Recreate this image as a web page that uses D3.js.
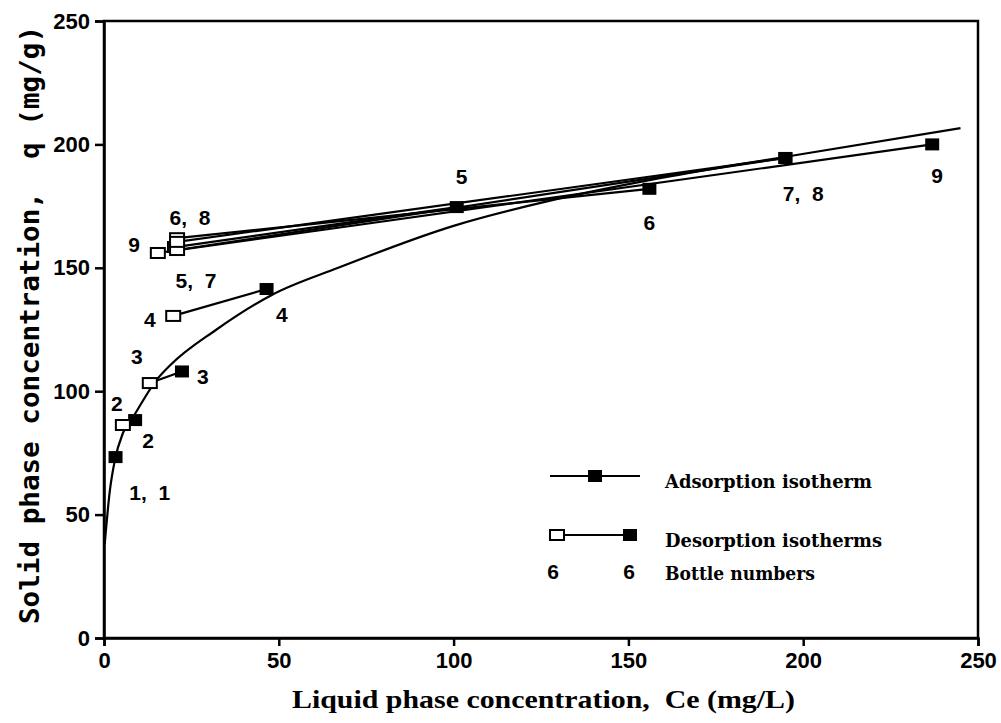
<!DOCTYPE html>
<html>
<head>
<meta charset="utf-8">
<script src="https://cdn.jsdelivr.net/npm/d3@7"></script>
<style>
  html, body { margin: 0; padding: 0; background: #fff; }
  svg { display: block; }
  text { fill: #000; }
</style>
</head>
<body>
<svg id="chart" width="1001" height="723"></svg>
<script>
// Bottle numbers for the adsorption (filled) points
const adsBottles = [1, 2, 3, 4, 5, 6, 7, 8, 9];
const adsCe = [3.3, 8.9, 22.3, 46.5, 100.9, 156, 194.9, 194.9, 236.9];
const adsQ = [73.3, 88.3, 108, 141.4, 174.6, 182, 194.5, 194.5, 200];

// Desorption end points (open squares), bottles 2-9
const desBottles = [2, 3, 4, 5, 6, 7, 8, 9];
const desCe = [5.4, 13.1, 19.8, 20.3, 20.9, 20.9, 20.9, 15.4];
const desQ = [86.3, 103.3, 130.5, 158.4, 162, 157.2, 160.5, 156];

// Fitted adsorption isotherm curve
const curveCe = [0.2, 1.7, 3.1, 5.4, 8.3, 15, 19, 32, 48, 67, 100, 127, 156, 182, 195, 245];
const curveQ = [38, 60, 72, 83, 89.5, 104.5, 110.6, 124.8, 139, 150, 167, 177, 185.5, 192, 195, 206.6];

// Bottle-number annotations, anchored in data units
const labelText = ["1,\u00a0\u00a01", "2", "2", "3", "3", "4", "4", "5,\u00a0\u00a07", "6,\u00a0\u00a08", "9", "5", "6", "7,\u00a0\u00a08", "9"];
const labelCe = [13.1, 3.7, 12.6, 9.4, 28.3, 13.1, 50.9, 26.3, 24.6, 8.6, 102.3, 156, 200, 238.3];
const labelQ = [58.8, 95.2, 80.2, 113.9, 105.8, 128.9, 130.9, 145, 170.2, 159.6, 186.8, 168.2, 180.3, 187.6];

// Axis ticks
const xTicks = [0, 50, 100, 150, 200, 250];
const yTicks = [0, 50, 100, 150, 200, 250];

const svg = d3.select("#chart");
const x = d3.scaleLinear().domain([0, 250]).range([104, 978]);
const y = d3.scaleLinear().domain([0, 250]).range([638, 21]);

const numFont = "'Liberation Sans', Arial, sans-serif";

// Frame
svg.append("rect")
  .attr("x", x(0)).attr("y", y(250))
  .attr("width", x(250) - x(0)).attr("height", y(0) - y(250))
  .attr("fill", "none").attr("stroke", "#000").attr("stroke-width", 2.5);

// Axes
const xAxis = svg.append("g")
  .attr("transform", `translate(0,${y(0)})`)
  .call(d3.axisBottom(x).tickValues(xTicks).tickSize(8).tickPadding(6).tickFormat(d3.format("d")));
const yAxis = svg.append("g")
  .attr("transform", `translate(${x(0)},0)`)
  .call(d3.axisLeft(y).tickValues(yTicks).tickSize(9).tickPadding(5).tickFormat(d3.format("d")));
[xAxis, yAxis].forEach(g => {
  g.select(".domain").attr("stroke", "#000").attr("stroke-width", 2.5);
  g.selectAll(".tick line").attr("stroke", "#000").attr("stroke-width", 2.5);
  g.selectAll(".tick text")
    .attr("fill", "#000")
    .style("font-family", numFont)
    .style("font-weight", "bold")
    .style("font-size", "22px");
});

// Axis titles
svg.append("text")
  .attr("x", 292).attr("y", 708)
  .attr("textLength", 503).attr("lengthAdjust", "spacingAndGlyphs")
  .style("font-family", "'Liberation Serif', 'Times New Roman', serif")
  .style("font-size", "26px")
  .style("font-weight", "bold")
  .text("Liquid phase concentration,\u00a0\u00a0Ce (mg/L)");

svg.append("text")
  .attr("transform", "translate(39,624) rotate(-90)")
  .attr("textLength", 598).attr("lengthAdjust", "spacingAndGlyphs")
  .style("font-family", "'DejaVu Sans Mono', monospace")
  .style("font-size", "27px")
  .style("font-weight", "bold")
  .text("Solid phase concentration,\u00a0\u00a0q (mg/g)");

const plot = svg.append("g");

// Adsorption isotherm curve
const curvePts = curveCe.map((c, i) => [x(c), y(curveQ[i])]);
plot.append("path")
  .attr("d", d3.line().curve(d3.curveMonotoneX)(curvePts))
  .attr("fill", "none").attr("stroke", "#000").attr("stroke-width", 2.2);

// Desorption lines: each open square back to its bottle's adsorption point
desBottles.forEach((b, i) => {
  const j = adsBottles.indexOf(b);
  plot.append("line")
    .attr("x1", x(desCe[i])).attr("y1", y(desQ[i]))
    .attr("x2", x(adsCe[j])).attr("y2", y(adsQ[j]))
    .attr("stroke", "#000").attr("stroke-width", 2.2);
});

// Filled squares (adsorption)
plot.selectAll("rect.ads").data(adsBottles).join("rect")
  .attr("class", "ads")
  .attr("x", (d, i) => x(adsCe[i]) - 7).attr("y", (d, i) => y(adsQ[i]) - 6)
  .attr("width", 14).attr("height", 12)
  .attr("fill", "#000");

// Open squares (desorption)
plot.selectAll("rect.des").data(desBottles).join("rect")
  .attr("class", "des")
  .attr("x", (d, i) => x(desCe[i]) - 7).attr("y", (d, i) => y(desQ[i]) - 5)
  .attr("width", 14).attr("height", 10)
  .attr("fill", "#fff").attr("stroke", "#000").attr("stroke-width", 2);

// Bottle-number labels
plot.selectAll("text.lbl").data(labelText).join("text")
  .attr("class", "lbl")
  .attr("x", (d, i) => x(labelCe[i])).attr("y", (d, i) => y(labelQ[i]))
  .attr("text-anchor", "middle").attr("dominant-baseline", "central")
  .style("font-family", numFont).style("font-weight", "bold").style("font-size", "21px")
  .text(d => d);

// Legend
const leg = svg.append("g");
const legFont = "'DejaVu Serif', serif";
leg.append("line").attr("x1", 550).attr("y1", 476).attr("x2", 640).attr("y2", 476)
  .attr("stroke", "#000").attr("stroke-width", 2.2);
leg.append("rect").attr("x", 588).attr("y", 470).attr("width", 14).attr("height", 12).attr("fill", "#000");
leg.append("line").attr("x1", 557).attr("y1", 535).attr("x2", 630).attr("y2", 535)
  .attr("stroke", "#000").attr("stroke-width", 2.2);
leg.append("rect").attr("x", 550).attr("y", 530).attr("width", 14).attr("height", 10)
  .attr("fill", "#fff").attr("stroke", "#000").attr("stroke-width", 2);
leg.append("rect").attr("x", 623).attr("y", 529).attr("width", 14).attr("height", 12).attr("fill", "#000");
leg.append("text").attr("x", 553).attr("y", 571).attr("text-anchor", "middle").attr("dominant-baseline", "central")
  .style("font-family", numFont).style("font-weight", "bold").style("font-size", "21px").text("6");
leg.append("text").attr("x", 629).attr("y", 571).attr("text-anchor", "middle").attr("dominant-baseline", "central")
  .style("font-family", numFont).style("font-weight", "bold").style("font-size", "21px").text("6");

const legLabels = ["Adsorption isotherm", "Desorption isotherms", "Bottle numbers"];
const legLens = [207, 217, 150];
const legY = [488, 547, 580];
legLabels.forEach((t, i) => {
  leg.append("text").attr("x", 665).attr("y", legY[i])
    .attr("textLength", legLens[i]).attr("lengthAdjust", "spacingAndGlyphs")
    .style("font-family", legFont).style("font-weight", "bold").style("font-size", "19px")
    .text(t);
});
</script>
</body>
</html>
